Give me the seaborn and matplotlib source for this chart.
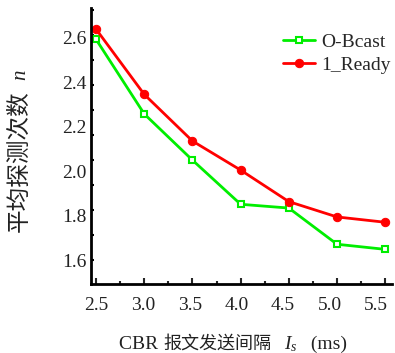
import matplotlib
matplotlib.use("Agg")
import matplotlib.pyplot as plt
from matplotlib.ticker import MultipleLocator
import seaborn as sns
import pandas as pd

x_vals = [2.5, 3.0, 3.5, 4.0, 4.5, 5.0, 5.5]
obcast = [2.594, 2.258, 2.05, 1.851, 1.834, 1.671, 1.648]
ready = [2.64, 2.346, 2.136, 2.005, 1.863, 1.794, 1.770]
series_names = ["O-Bcast", "1_Ready"]
x_ticks = [2.5, 3.0, 3.5, 4.0, 4.5, 5.0, 5.5]
y_ticks = [1.6, 1.8, 2.0, 2.2, 2.4, 2.6]
# (text, fontsize, extra gap after in px)
xlabel_parts = [("CBR ", 14, 0), ("报文发送间隔", 13, 13), (r"$I_s$", 14, 8), (" (ms)", 14, 0)]
ylabel_parts = [("平均探测次数", 17, 0), (" ", 15, 4), (r"$n$", 15, 0)]

GREEN = "#00ee00"
RED = "#ff0000"
TXT = "#222222"

df = pd.DataFrame({
    "x": x_vals * 2,
    "y": obcast + ready,
    "series": [series_names[0]] * len(x_vals) + [series_names[1]] * len(x_vals),
})

sns.set_style("ticks")
plt.rcParams["font.family"] = ["Liberation Serif", "Noto Sans CJK SC"]
plt.rcParams["mathtext.fontset"] = "custom"
plt.rcParams["mathtext.rm"] = "Liberation Serif"
plt.rcParams["mathtext.it"] = "Liberation Serif:italic"

W, H = 395, 353
fig = plt.figure(figsize=(W / 100, H / 100), dpi=100)
rect = [91 / W, 1 - 284 / H, (392 - 91) / W, (284 - 8) / H]
ax = fig.add_axes(rect)
# overlay axes: carries x tick labels and y tick marks (they sit on a slightly
# different scale than the data in the original figure)
ax2 = fig.add_axes(rect, facecolor="none", zorder=-1)
ax.patch.set_visible(False)

palette = {series_names[0]: GREEN, series_names[1]: RED}
sns.lineplot(data=df, x="x", y="y", hue="series", style="series",
             palette=palette, markers={series_names[0]: "s", series_names[1]: "o"},
             dashes=False, linewidth=2, ax=ax, legend=True)


def style_line(ln):
    c = matplotlib.colors.to_hex(ln.get_color())
    ln.set_linewidth(2)
    if c == GREEN:
        ln.set_marker("s")
        ln.set_markersize(5)
        ln.set_markerfacecolor("white")
        ln.set_markeredgecolor(GREEN)
        ln.set_markeredgewidth(1.5)
    elif c == RED:
        ln.set_marker("o")
        ln.set_markersize(6)
        ln.set_markerfacecolor(RED)
        ln.set_markeredgecolor(RED)


for ln in ax.get_lines():
    style_line(ln)

# main axes: data scale
ax.set_xlim(2.448, 5.57)
ax.set_ylim(1.492, 2.735)
ax.set_xticks(x_ticks)
ax.xaxis.set_minor_locator(MultipleLocator(0.25))
ax.tick_params(axis="x", which="major", direction="in", length=4, width=1.5,
               labelbottom=False)
ax.tick_params(axis="x", which="minor", direction="in", length=2.5, width=1.5)
ax.set_yticks(y_ticks)
ax.set_yticklabels([f"{v:.1f}" for v in y_ticks])
ax.tick_params(axis="y", which="major", length=0, pad=3, labelsize=14,
               labelcolor=TXT)
ax.tick_params(axis="y", which="minor", length=0)

for s in ["top", "right"]:
    ax.spines[s].set_visible(False)
for s in ["left", "bottom"]:
    ax.spines[s].set_linewidth(2)
    ax.spines[s].set_color("black")
ax.set_xlabel("")
ax.set_ylabel("")

# overlay axes
for s in ax2.spines.values():
    s.set_visible(False)
ax2.set_xlim(2.439, 5.668)
ax2.set_xticks(x_ticks)
ax2.set_xticklabels([f"{v:.1f}" for v in x_ticks])
ax2.tick_params(axis="x", which="major", length=0, pad=9, labelsize=14,
                labelcolor=TXT)
ax2.set_ylim(1.604, 2.708)
ax2.yaxis.set_major_locator(MultipleLocator(0.1))
ax2.tick_params(axis="y", which="major", direction="in", length=2.5, width=1.5,
                labelleft=False, color="black")
ax2.tick_params(axis="y", which="minor", length=0)
ax2.patch.set_visible(False)

leg = ax.legend(loc="upper right", bbox_to_anchor=(1.035, 0.95), frameon=False,
                fontsize=14, handlelength=1.6, handletextpad=0.35, labelspacing=0.25,
                borderaxespad=0.2)
for h in leg.legend_handles:
    style_line(h)

renderer = fig.canvas.get_renderer()


def hlabel(parts, cx, baseline_y):
    texts, widths = [], []
    for s, fs, gap in parts:
        t = fig.text(0, baseline_y / H, s, fontsize=fs, ha="left", va="baseline",
                     color=TXT)
        texts.append(t)
        widths.append(t.get_window_extent(renderer).width + gap)
    x = cx - sum(widths) / 2
    for t, w in zip(texts, widths):
        t.set_x(x / W)
        x += w


def vlabel(parts, baseline_x, start_y):
    texts, heights = [], []
    for s, fs, gap in parts:
        t = fig.text(baseline_x / W, 0, s, fontsize=fs, rotation=90,
                     rotation_mode="anchor", ha="left", va="baseline", color=TXT)
        texts.append(t)
        heights.append(t.get_window_extent(renderer).height + gap)
    y = H - start_y
    for t, h in zip(texts, heights):
        t.set_y(y / H)
        y += h


hlabel(xlabel_parts, 233, H - 349)
vlabel(ylabel_parts, 26, 232)

fig.savefig("out.png", dpi=100)
